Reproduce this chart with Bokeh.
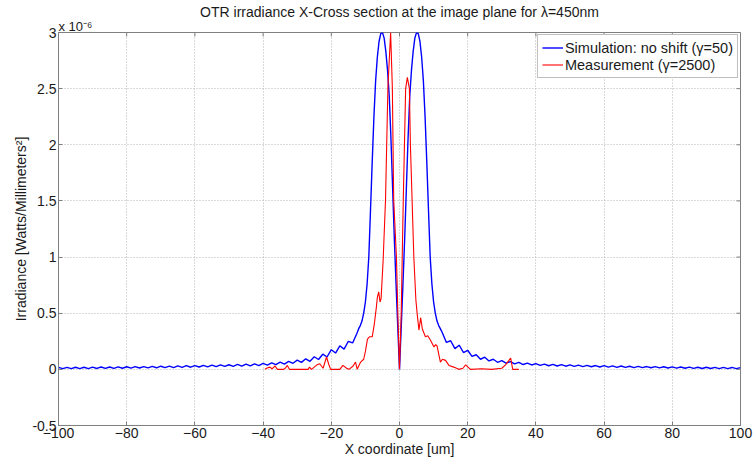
import math
from bokeh.plotting import figure
from bokeh.models import Range1d, Legend, LegendItem, FixedTicker, Title
from bokeh.embed import file_html
from bokeh.resources import INLINE

FONT = "Liberation Sans"

title_text = "OTR irradiance X-Cross section at the image plane for \u03bb=450nm"
exponent_text = "x 10\u207b\u2076"
x_title = "X coordinate [um]"
y_title = "Irradiance [Watts/Millimeters\u00b2]"
sim_label = "Simulation: no shift (\u03b3=50)"
meas_label = "Measurement (\u03b3=2500)"

x_ticks = [-100, -80, -60, -40, -20, 0, 20, 40, 60, 80, 100]
y_ticks = [-0.5, 0, 0.5, 1, 1.5, 2, 2.5, 3]
y_tick_labels = ["-0.5", "0", "0.5", "1", "1.5", "2", "2.5", "3"]

# Simulation (values in units of 1e-6)
sim_x = [
    -100, -98.75, -97.5, -96.25, -95, -93.75, -92.5, -91.25, -90, -88.75,
    -87.5, -86.25, -85, -83.75, -82.5, -81.25, -80, -78.75, -77.5, -76.25,
    -75, -73.75, -72.5, -71.25, -70, -68.75, -67.5, -66.25, -65, -63.75,
    -62.5, -61.25, -60, -58.75, -57.5, -56.25, -55, -53.75, -52.5, -51.25,
    -50, -48.75, -47.5, -46.25, -45, -43.75, -42.5, -41.25, -40, -38.75,
    -37.5, -36.25, -35, -33.75, -32.5, -31.25, -30, -28.75, -27.5, -26.25,
    -25, -23.75, -22.5, -21.25, -20, -18.75, -17.5, -16.25, -15, -13.75,
    -12.5,
    -12, -11.5, -11, -10.5, -10, -9.5, -9, -8.5, -8, -7.5, -7, -6.5,
    -6, -5.5, -5, -4.5, -4, -3.5, -3, -2.5, -2, -1.5, -1, -0.5,
    0,
    0.5, 1, 1.5, 2, 2.5, 3, 3.5, 4, 4.5, 5, 5.5, 6,
    6.5, 7, 7.5, 8, 8.5, 9, 9.5, 10, 10.5, 11, 11.5, 12,
    12.5, 13.75, 15, 16.25, 17.5, 18.75, 20, 21.25, 22.5, 23.75,
    25, 26.25, 27.5, 28.75, 30, 31.25, 32.5, 33.75, 35, 36.25,
    37.5, 38.75, 40, 41.25, 42.5, 43.75, 45, 46.25, 47.5, 48.75,
    50, 51.25, 52.5, 53.75, 55, 56.25, 57.5, 58.75, 60, 61.25,
    62.5, 63.75, 65, 66.25, 67.5, 68.75, 70, 71.25, 72.5, 73.75,
    75, 76.25, 77.5, 78.75, 80, 81.25, 82.5, 83.75, 85, 86.25,
    87.5, 88.75, 90, 91.25, 92.5, 93.75, 95, 96.25, 97.5, 98.75,
    100,
]
sim_y = [
    0.018, 0.006, 0.018, 0.006, 0.019, 0.007, 0.019, 0.007, 0.020, 0.008,
    0.021, 0.008, 0.021, 0.009, 0.022, 0.010, 0.023, 0.011, 0.024, 0.012,
    0.025, 0.013, 0.026, 0.014, 0.028, 0.015, 0.029, 0.016, 0.031, 0.018,
    0.033, 0.019, 0.034, 0.021, 0.036, 0.022, 0.038, 0.024, 0.040, 0.026,
    0.041, 0.027, 0.044, 0.029, 0.046, 0.031, 0.049, 0.034, 0.053, 0.038,
    0.058, 0.042, 0.064, 0.047, 0.071, 0.054, 0.082, 0.062, 0.094, 0.072,
    0.112, 0.088, 0.135, 0.110, 0.175, 0.145, 0.210, 0.180, 0.250, 0.235,
    0.320,
    0.36, 0.39, 0.43, 0.50, 0.60, 0.76, 1.00, 1.42, 1.85, 2.25, 2.57, 2.78,
    2.92, 2.99, 3.00, 2.95, 2.83, 2.66, 2.43, 2.05, 1.60, 1.15, 0.75, 0.37,
    0.0,
    0.37, 0.75, 1.15, 1.60, 2.05, 2.43, 2.66, 2.83, 2.95, 3.00, 2.99, 2.92,
    2.78, 2.57, 2.25, 1.85, 1.42, 1.00, 0.76, 0.60, 0.50, 0.43, 0.39, 0.36,
    0.330, 0.240, 0.255, 0.185, 0.215, 0.150, 0.170, 0.115, 0.130, 0.090,
    0.108, 0.075, 0.090, 0.063, 0.078, 0.055, 0.069, 0.048, 0.062, 0.043,
    0.056, 0.039, 0.051, 0.035, 0.047, 0.032, 0.045, 0.030, 0.042, 0.028,
    0.040, 0.026, 0.038, 0.025, 0.036, 0.023, 0.034, 0.021, 0.033, 0.020,
    0.031, 0.018, 0.030, 0.017, 0.028, 0.016, 0.027, 0.015, 0.025, 0.014,
    0.024, 0.013, 0.023, 0.012, 0.022, 0.011, 0.021, 0.010, 0.020, 0.009,
    0.019, 0.008, 0.019, 0.008, 0.018, 0.007, 0.018, 0.007, 0.017, 0.006,
    0.016,
]

# Measurement (values in units of 1e-6)
meas_x = [
    -39.5, -39, -38, -37.4, -36.5, -35.8, -34, -33.5, -32.9, -32.3,
    -29, -26.8, -26.4, -25.8, -24.2, -23.4, -22.4, -21.4, -20.8, -20.2,
    -17.5, -16.6, -15.5, -14.8, -13.6, -12.9, -12.4, -11.4, -10.5, -10,
    -9.4, -8.8, -8, -7.4, -6.8, -6.5, -6.1, -5.7, -5.4, -4.8,
    -4.1, -3.4, -2.6, -2.1, -1.7, -0.9, -0.4, 0, 0.5, 1.1,
    1.8, 2.3, 2.9, 3.2, 3.7, 4.2, 4.8, 5.2, 5.7, 6.2,
    6.7, 7.6, 8.3, 9.1, 10.1, 10.6, 11, 12, 12.6, 13.5,
    14.5, 15.9, 17.4, 18.6, 19.4, 20.8, 24, 27, 30, 31.1,
    32.6, 33.2, 35,
]
meas_y = [
    0, 0.01, 0.02, 0.005, 0.03, 0, 0, 0.01, 0.035, 0,
    0, 0, 0.02, 0, 0.04, 0.05, 0.01, 0.11, 0.05, 0,
    0, 0.035, 0.01, 0, 0.03, 0.065, 0, 0.065, 0.09, 0.16,
    0.27, 0.29, 0.29, 0.40, 0.55, 0.64, 0.69, 0.60, 0.63, 0.97,
    1.51, 2.51, 3.0, 2.51, 1.51, 1.0, 0.4, 0, 0.5, 1.5,
    2.5, 2.6, 2.5, 2.0, 1.5, 1.0, 0.62, 0.49, 0.35, 0.46,
    0.36, 0.29, 0.30, 0.26, 0.20, 0.22, 0.21, 0.065, 0.09, 0.08,
    0.035, 0.02, 0, 0.01, 0.04, 0, 0.005, 0, 0.01, 0.04,
    0.10, 0, 0,
]

AX = "#7f7f7f"
TXT = "#1a1a1a"

p = figure(width=753, height=459,
           x_range=Range1d(x_ticks[0], x_ticks[-1]),
           y_range=Range1d(y_ticks[0], y_ticks[-1]),
           output_backend="svg", toolbar_location=None, title=None,
           min_border_left=58, min_border_right=13,
           min_border_top=32, min_border_bottom=32)
p.background_fill_color = "white"
p.border_fill_color = "white"
p.outline_line_color = AX

# titles stacked above the frame: exponent (closest), then the main title
p.add_layout(Title(text=exponent_text, align="left", text_font=FONT,
                   text_font_size="13px", text_font_style="normal",
                   text_color=TXT, standoff=-2), "above")
p.add_layout(Title(text=title_text, align="center", text_font=FONT,
                   text_font_size="14px", text_font_style="normal",
                   text_color=TXT, standoff=-4), "above")

for ax in (p.xaxis[0], p.yaxis[0]):
    ax.axis_line_color = AX
    ax.major_tick_line_color = AX
    ax.major_tick_in = 4
    ax.major_tick_out = 0
    ax.minor_tick_line_color = None
    ax.major_label_text_font = FONT
    ax.major_label_text_font_size = "14px"
    ax.major_label_text_color = TXT
    ax.axis_label_text_font = FONT
    ax.axis_label_text_font_size = "14px"
    ax.axis_label_text_font_style = "normal"
    ax.axis_label_text_color = TXT
    ax.axis_label_standoff = 0

p.xaxis[0].ticker = FixedTicker(ticks=x_ticks)
p.xaxis[0].major_label_standoff = 2
p.xaxis[0].axis_label = x_title
p.yaxis[0].ticker = FixedTicker(ticks=y_ticks)
p.yaxis[0].major_label_overrides = {t: l for t, l in zip(y_ticks, y_tick_labels)}
p.yaxis[0].major_label_standoff = 2
p.yaxis[0].axis_label = y_title

p.xgrid.ticker = FixedTicker(ticks=x_ticks)
p.ygrid.ticker = FixedTicker(ticks=y_ticks)
for g in (p.xgrid[0], p.ygrid[0]):
    g.grid_line_color = "#b4b4b4"
    g.grid_line_dash = "1 2"
    g.grid_line_width = 1

# mirrored inward ticks on the top and right edges of the box
p.scatter(x=x_ticks, y=[y_ticks[-1]] * len(x_ticks), marker="dash",
          angle=math.pi / 2, size=8, line_color=AX, line_width=1)
p.scatter(x=[x_ticks[-1]] * len(y_ticks), y=y_ticks, marker="dash",
          size=8, line_color=AX, line_width=1)

r_sim = p.line(sim_x, sim_y, line_color="#0000ff", line_width=1.4)
r_meas = p.line(meas_x, meas_y, line_color="#ff0000", line_width=1.1)

legend = Legend(items=[LegendItem(label=sim_label, renderers=[r_sim]),
                       LegendItem(label=meas_label, renderers=[r_meas])],
                location="top_right")
legend.margin = 2
legend.padding = 4
legend.spacing = 0
legend.glyph_width = 21
legend.glyph_height = 17
legend.label_height = 17
legend.label_standoff = 2
legend.label_text_font = FONT
legend.label_text_font_size = "14.5px"
legend.label_text_color = TXT
legend.border_line_color = AX
legend.background_fill_alpha = 1
p.add_layout(legend)

open("out.html", "w").write(file_html(p, INLINE))
